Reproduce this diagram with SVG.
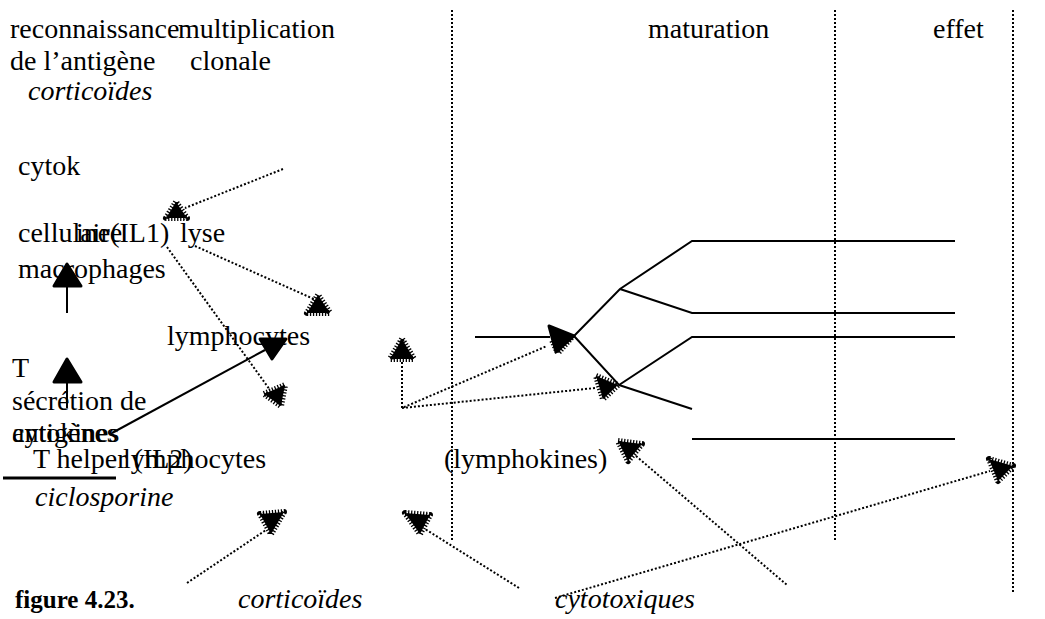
<svg xmlns="http://www.w3.org/2000/svg" width="1045" height="619" viewBox="0 0 1045 619">
<style>
text{font-family:"Liberation Serif","Times New Roman",Tinos,serif;font-size:28px;fill:#000}
.it{font-style:italic}
.b{font-weight:bold;font-size:25px}
.dot{stroke:#000;stroke-width:2;stroke-dasharray:2 2;fill:none}
.sol{stroke:#000;stroke-width:2;fill:none}
.hatch{fill:#000;stroke:#000;stroke-width:6;stroke-dasharray:1.3 1.7;stroke-linejoin:round}
.head{fill:#000;stroke:#000;stroke-width:3;stroke-linejoin:round}
</style>
<rect width="1045" height="619" fill="#fff"/>
<g id="dividers">
<line class="dot" x1="452" y1="10" x2="452" y2="540"/>
<line class="dot" x1="835" y1="10" x2="835" y2="540"/>
<line class="dot" x1="1013" y1="10" x2="1013" y2="592"/>
</g>
<g id="connectors">
<line class="dot" x1="283" y1="169" x2="185" y2="208"/>
<polygon class="hatch" points="176,202 166,218 187,218"/>
<line class="dot" x1="195" y1="246" x2="316" y2="300"/>
<polygon class="hatch" points="318,295 307,313 330,313"/>
<line class="dot" x1="167" y1="247" x2="270" y2="390"/>
<polygon class="hatch" points="264,394 285,385 281,406"/>
<line class="sol" x1="67" y1="287" x2="67" y2="313"/>
<polygon class="head" points="67,264 54,286 81,286"/>
<line class="sol" x1="67" y1="383" x2="67" y2="408"/>
<polygon class="head" points="67,359 54,382 81,382"/>
<line class="sol" x1="112" y1="433" x2="265" y2="350"/>
<polygon class="head" points="260,339 286,339 272,359"/>
<polyline class="dot" points="402,362 402,408 547,346"/>
<line class="dot" x1="402" y1="408" x2="595" y2="388"/>
<polygon class="hatch" points="402,339 390,359 414,359"/>
<line class="sol" x1="475" y1="337" x2="550" y2="337"/>
<polygon class="hatch" points="552,340 572,337 558,353"/>
<polygon class="head" points="549,326 574,336 556,352"/>
<polyline class="sol" points="574,336 620,289 692,241 955,241"/>
<polyline class="sol" points="620,289 692,313 955,313"/>
<polyline class="sol" points="574,336 619,385 692,337 955,337"/>
<line class="sol" x1="619" y1="385" x2="692" y2="409"/>
<line class="sol" x1="692" y1="439" x2="955" y2="439"/>
<polygon class="hatch" points="596,376 618,385 603,399"/>
<line class="dot" x1="636" y1="456" x2="787" y2="585"/>
<polygon class="hatch" points="618,441 642,444 628,461"/>
<line class="dot" x1="555" y1="598" x2="990" y2="471"/>
<polygon class="hatch" points="989,459 1013,466 998,481"/>
<line class="dot" x1="187" y1="583" x2="266" y2="530"/>
<polygon class="hatch" points="260,514 284,512 271,534"/>
<line class="dot" x1="519" y1="588" x2="425" y2="529"/>
<polygon class="hatch" points="405,513 430,515 420,534"/>
<line x1="3" y1="478" x2="116" y2="478" stroke="#000" stroke-width="3"/>
</g>
<g id="header">
<text x="10" y="38">reconnaissance</text>
<text x="178" y="38">multiplication</text>
<text x="10" y="70">de l’antigène</text>
<text x="190" y="70">clonale</text>
<text x="648" y="38">maturation</text>
<text x="933" y="38">effet</text>
</g>
<g id="corticoides-top"><text class="it" x="28" y="100">corticoïdes</text></g>
<g id="cytokines-il1">
<text x="18" y="175">cytok</text>
<text x="76" y="242">ine(IL1)</text>
</g>
<g id="lyse-cellulaire">
<text x="180" y="242">lyse</text>
<text x="18" y="242">cellulaire</text>
</g>
<g id="macrophages"><text x="18" y="278">macrophages</text></g>
<g id="lymphocytes-t">
<text x="167" y="345">lymphocytes</text>
<text x="12" y="377">T</text>
</g>
<g id="secretion">
<text x="12" y="410">sécrétion de</text>
<text x="12" y="442">cytokines</text>
</g>
<g id="antigenes"><text x="12" y="442">antigènes</text></g>
<g id="t-helper">
<text x="33" y="468">T helper (IL2)</text>
<text x="123" y="468">lymphocytes</text>
</g>
<g id="lymphokines"><text x="444" y="468">(lymphokines)</text></g>
<g id="ciclosporine"><text class="it" x="35" y="506">ciclosporine</text></g>
<g id="caption">
<text class="b" x="15" y="608">figure 4.23.</text>
<text class="it" x="238" y="608">corticoïdes</text>
<text class="it" x="555" y="608">cytotoxiques</text>
</g>
</svg>
